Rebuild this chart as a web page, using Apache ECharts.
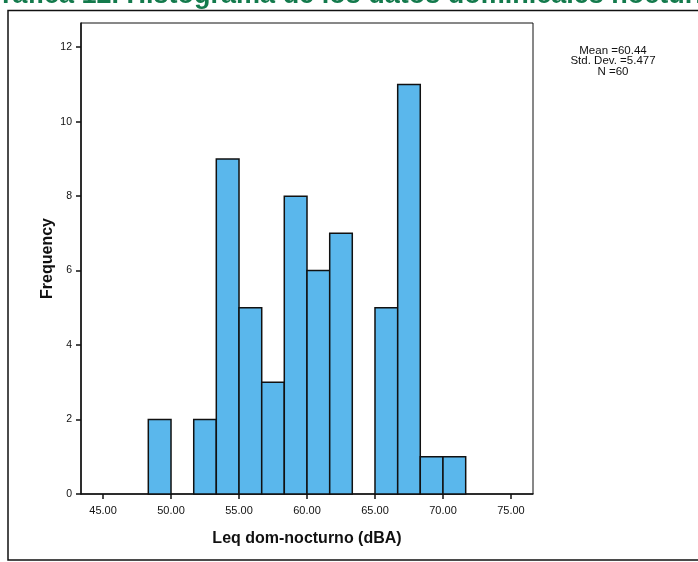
<!DOCTYPE html>
<html>
<head>
<meta charset="utf-8">
<style>
html,body{margin:0;padding:0;background:#fff;}
#chart{width:698px;height:562px;}
</style>
<script src="https://cdn.jsdelivr.net/npm/echarts@6/dist/echarts.min.js"></script>
</head>
<body>
<div id="chart"></div>
<script>
// Histogram bin edges (dBA) and counts
var binEdges = [48.33, 50.00, 51.67, 53.33, 55.00, 56.67, 58.33, 60.00, 61.67, 63.33, 65.00, 66.67, 68.33, 70.00, 71.67];
var counts   = [2, 0, 2, 9, 5, 3, 8, 6, 7, 0, 5, 11, 1, 1];
var xTicks = [45, 50, 55, 60, 65, 70, 75];
var yTicks = [0, 2, 4, 6, 8, 10, 12];
var statsLines = ['Mean =60.44', 'Std. Dev. =5.477', 'N =60'];
var titleText = 'Gráfica 12. Histograma de los datos dominicales nocturnos';

var barData = [];
for (var i = 0; i < counts.length; i++) {
  if (counts[i] > 0) barData.push([binEdges[i], binEdges[i + 1], counts[i]]);
}

var chart = echarts.init(document.getElementById('chart'), null, {renderer: 'canvas'});
var font = 'Liberation Sans, Arial, sans-serif';

chart.setOption({
  backgroundColor: '#ffffff',
  animation: false,
  grid: {left: 81, top: 23, right: 165, bottom: 68, show: true, borderColor: '#111', borderWidth: 1, backgroundColor: 'transparent'},
  xAxis: {
    type: 'value', min: 43.38, max: 76.62,
    name: 'Leq dom-nocturno (dBA)', nameLocation: 'middle', nameGap: 37,
    nameTextStyle: {fontFamily: font, fontSize: 16, fontWeight: 'bold', color: '#111'},
    axisLine: {show: true, onZero: false, lineStyle: {color: '#111', width: 1.5}},
    axisTick: {show: true, inside: false, length: 5, customValues: xTicks, lineStyle: {color: '#111', width: 1.5}},
    axisLabel: {customValues: xTicks, margin: 11, fontFamily: font, fontSize: 11, color: '#111',
      formatter: function (v) { return v.toFixed(2); }},
    splitLine: {show: false}
  },
  yAxis: {
    type: 'value', min: 0, max: 12.65,
    name: 'Frequency', nameLocation: 'middle', nameGap: 25, nameRotate: 90, nameMoveOverlap: false,
    nameTextStyle: {fontFamily: font, fontSize: 16, fontWeight: 'bold', color: '#111'},
    axisLine: {show: true, lineStyle: {color: '#111', width: 1.5}},
    axisTick: {show: true, inside: false, length: 5, customValues: yTicks, lineStyle: {color: '#111', width: 1.5}},
    axisLabel: {customValues: yTicks, margin: 9, fontFamily: font, fontSize: 10.5, color: '#111'},
    splitLine: {show: false}
  },
  series: [{
    type: 'custom',
    data: barData,
    encode: {x: [0, 1], y: 2},
    renderItem: function (params, api) {
      var p0 = api.coord([api.value(0), 0]);
      var p1 = api.coord([api.value(1), api.value(2)]);
      return {
        type: 'rect',
        shape: {x: p0[0], y: p1[1], width: p1[0] - p0[0], height: p0[1] - p1[1]},
        style: {fill: '#5ab7ec', stroke: '#111', lineWidth: 1.5}
      };
    }
  }],
  graphic: [
    {type: 'rect', shape: {x: 8, y: 10.5, width: 700, height: 549.5}, style: {fill: 'none', stroke: '#111', lineWidth: 1.5}, z: 10},
    {type: 'text', x: -19, y: -4, style: {text: titleText, font: 'bold 27px ' + font, fill: '#137a4c', verticalAlign: 'middle', align: 'left'}, z: 10},
    {type: 'text', x: 613, y: 45.5, style: {text: statsLines.join('\n'), font: '11.5px ' + font, lineHeight: 10.5, fill: '#111', align: 'center', verticalAlign: 'top'}, z: 10}
  ]
});
</script>
</body>
</html>
